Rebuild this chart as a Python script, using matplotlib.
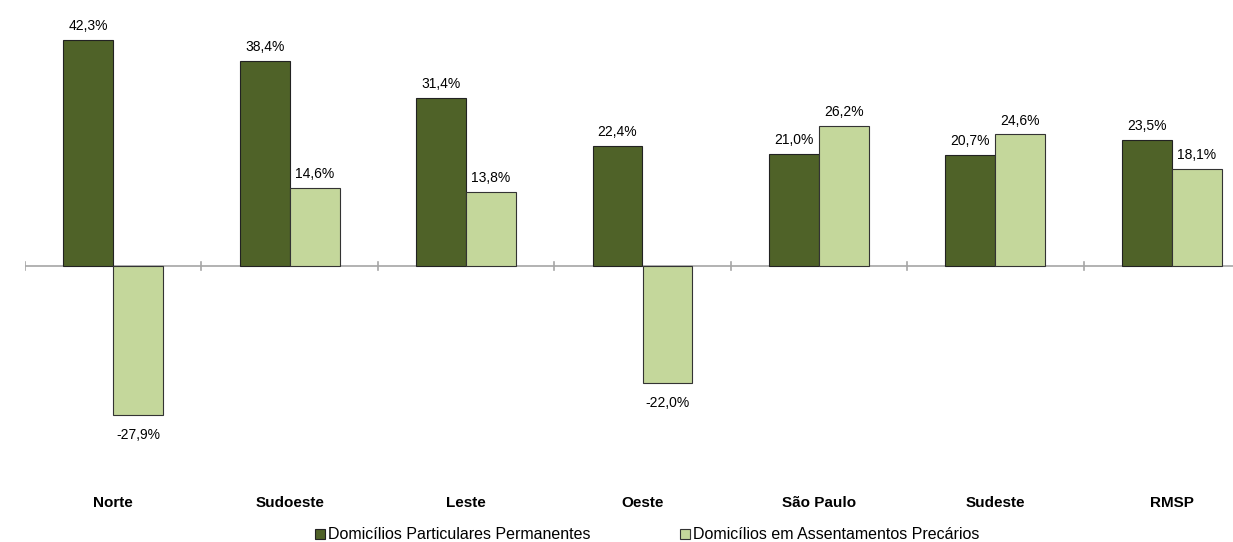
import matplotlib.pyplot as plt
import numpy as np

plt.rcParams['font.family'] = ['Liberation Sans', 'DejaVu Sans']

regioes = ['Norte', 'Sudoeste', 'Leste', 'Oeste', 'São Paulo', 'Sudeste', 'RMSP']
particulares = [42.3, 38.4, 31.4, 22.4, 21.0, 20.7, 23.5]
precarios = [-27.9, 14.6, 13.8, -22.0, 26.2, 24.6, 18.1]
series = ['Domicílios Particulares Permanentes', 'Domicílios em Assentamentos Precários']

cor_escura = '#4f6228'
cor_clara = '#c4d79b'

fig = plt.figure(figsize=(12.33, 5.42), dpi=100)
ax = fig.add_axes([25 / 1233, 0.115, 1235 / 1233, 0.838])

x = np.arange(len(regioes)) + 0.5
w = 0.283
b1 = ax.bar(x - w / 2, particulares, w, color=cor_escura, edgecolor='#222222', linewidth=0.8,
            label=series[0])
b2 = ax.bar(x + w / 2, precarios, w, color=cor_clara, edgecolor='#333333', linewidth=0.8,
            label=series[1])

def rotulo(v):
    return f'{v:.1f}%'.replace('.', ',')

for barras, vals in [(b1, particulares), (b2, precarios)]:
    for b, v in zip(barras, vals):
        cx = b.get_x() + b.get_width() / 2
        if v >= 0:
            ax.annotate(rotulo(v), (cx, v), xytext=(0, 5), textcoords='offset points',
                        ha='center', va='bottom', fontsize=10)
        else:
            ax.annotate(rotulo(v), (cx, v), xytext=(0, -9), textcoords='offset points',
                        ha='center', va='top', fontsize=10)

# linha do zero com marcas nos limites das categorias
ax.axhline(0, color='#a6a6a6', linewidth=1.2, zorder=0)
for t in range(len(regioes) + 1):
    ax.plot([t, t], [-0.8, 0.8], color='#a6a6a6', linewidth=1.2, zorder=0)

ax.set_xlim(0, len(regioes))
ax.set_ylim(-40, 45)
ax.set_xticks([])
ax.set_yticks([])
for s in ax.spines.values():
    s.set_visible(False)

for xi, nome in zip(x, regioes):
    ax.text(xi, -44.3, nome, ha='center', va='center', fontsize=11, fontweight='bold')

fig.legend(handles=[b1, b2], loc='center', bbox_to_anchor=(0.525, 0.013), ncol=2,
           frameon=False, fontsize=11.5, handlelength=0.6, handleheight=0.6,
           handletextpad=0.2, columnspacing=5.6)

fig.savefig('out.png', dpi=100)
